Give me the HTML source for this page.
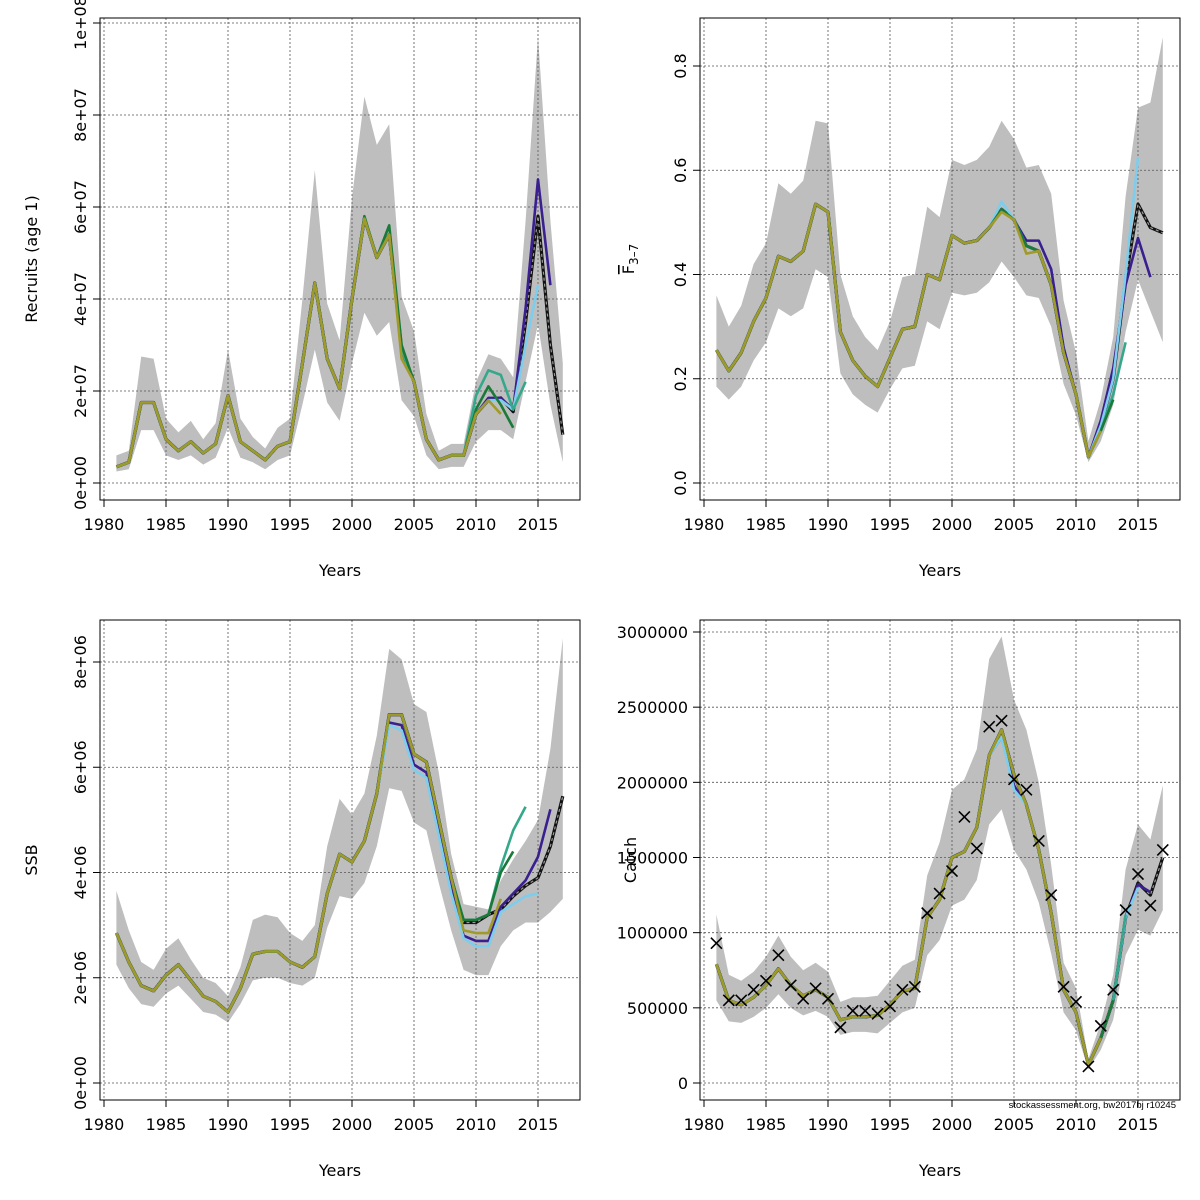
<!DOCTYPE html>
<html><head><meta charset="utf-8">
<style>
html,body{margin:0;padding:0;background:#fff;}
svg{display:block;font-family:"DejaVu Sans","Liberation Sans",sans-serif;}
</style></head>
<body>
<svg id="chart" width="1200" height="1200" viewBox="0 0 1200 1200"></svg>
<script>
const years=[];for(let y=1981;y<=2017;y++)years.push(y);
// Recruits (millions)
const recMid=[3.5,4.5,17.5,17.5,9.5,7,9,6.5,8.5,19,9,7,5,8,9,26,43.5,27,20.5,40,57.5,49,54,29,22,9.5,5,6,6,15,18,18.5,15.5,35,58,30,10.5];
const recLo=[2.5,3,11.5,11.5,6,5,6,4,5.5,12,5.5,4.5,3,5,6,17,29,17.5,13.5,26,37,32,35,18,14.5,6,3,3.5,3.5,9,11.5,11.5,9.5,22,34.5,17,4.5];
const recHi=[6,7,27.5,27,14,11,13.5,9.5,13,29,14,10,7.5,12,14,40,68,39,31,62,84,73.5,78,40.5,33,15,7,8.5,8.5,22,28,27,23,57,97,57,26];
const recR2016={2011:18.5,2012:18.5,2013:16,2014:38,2015:66,2016:43};
const recR2015={2011:18,2012:18,2013:16,2014:30,2015:43};
const recR2014={2010:19,2011:24.5,2012:23.5,2013:16,2014:22};
const recR2013={2001:58,2003:56,2004:30,2010:16,2011:21,2012:17,2013:12};
const recR2012={2004:27,2010:15,2011:18,2012:15};
// Fbar
const fMid=[0.255,0.215,0.25,0.31,0.355,0.435,0.425,0.445,0.535,0.52,0.29,0.235,0.205,0.185,0.24,0.295,0.3,0.4,0.39,0.475,0.46,0.465,0.49,0.525,0.505,0.455,0.445,0.38,0.25,0.17,0.05,0.11,0.2,0.39,0.535,0.49,0.48];
const fLo=[0.185,0.16,0.185,0.235,0.27,0.335,0.32,0.335,0.41,0.395,0.21,0.17,0.15,0.135,0.18,0.22,0.225,0.31,0.295,0.365,0.36,0.365,0.385,0.425,0.395,0.36,0.355,0.3,0.19,0.13,0.04,0.08,0.15,0.29,0.39,0.33,0.27];
const fHi=[0.36,0.3,0.34,0.42,0.46,0.575,0.555,0.58,0.695,0.69,0.4,0.32,0.28,0.255,0.31,0.395,0.4,0.53,0.51,0.62,0.61,0.62,0.645,0.695,0.66,0.605,0.61,0.555,0.35,0.25,0.08,0.16,0.28,0.55,0.72,0.73,0.855];
const fR2016={2006:0.465,2007:0.465,2008:0.41,2009:0.26,2010:0.17,2011:0.05,2012:0.12,2013:0.22,2014:0.38,2015:0.47,2016:0.395};
const fR2015={2004:0.54,2012:0.11,2013:0.2,2014:0.4,2015:0.625};
const fR2014={2012:0.1,2013:0.17,2014:0.27};
const fR2013={2012:0.1,2013:0.16};
const fR2012={2004:0.52,2006:0.44,2011:0.05,2012:0.1};
// SSB (millions)
const ssbMid=[2.85,2.3,1.85,1.75,2.05,2.25,1.95,1.65,1.55,1.35,1.8,2.45,2.5,2.5,2.3,2.2,2.4,3.6,4.35,4.2,4.6,5.5,7.0,7.0,6.25,6.1,5.0,3.9,3.05,3.05,3.2,3.3,3.55,3.75,3.9,4.5,5.45];
const ssbLo=[2.25,1.8,1.5,1.45,1.7,1.85,1.6,1.35,1.3,1.15,1.5,1.95,2.0,2.0,1.9,1.85,2.0,2.95,3.55,3.5,3.8,4.5,5.6,5.55,4.95,4.8,3.8,2.9,2.15,2.05,2.05,2.6,2.9,3.05,3.05,3.25,3.5];
const ssbHi=[3.65,2.9,2.3,2.15,2.55,2.75,2.35,2.0,1.9,1.65,2.2,3.1,3.2,3.15,2.85,2.7,3.0,4.5,5.4,5.1,5.5,6.6,8.25,8.05,7.2,7.05,5.9,4.35,3.4,3.35,3.3,3.85,4.25,4.6,5.0,6.35,8.45];
const ssbR2016={2003:6.85,2004:6.8,2005:6.05,2006:5.9,2007:4.8,2008:3.7,2009:2.8,2010:2.7,2011:2.7,2012:3.35,2013:3.6,2014:3.85,2015:4.3,2016:5.2};
const ssbR2015={2003:6.8,2004:6.7,2005:5.95,2006:5.8,2007:4.7,2008:3.6,2009:2.75,2010:2.6,2011:2.6,2012:3.25,2013:3.4,2014:3.55,2015:3.6};
const ssbR2014={2009:3.1,2010:3.1,2011:3.2,2012:4.1,2013:4.8,2014:5.25};
const ssbR2013={2009:3.1,2010:3.1,2011:3.2,2012:4.0,2013:4.4};
const ssbR2012={2009:2.9,2010:2.85,2011:2.85,2012:3.5};
// Catch (millions)
const catMid=[0.79,0.55,0.52,0.57,0.65,0.76,0.65,0.58,0.62,0.57,0.42,0.44,0.44,0.45,0.52,0.61,0.63,1.1,1.22,1.5,1.54,1.7,2.18,2.35,2.05,1.85,1.55,1.13,0.62,0.47,0.12,0.3,0.55,1.1,1.33,1.25,1.5];
const catLo=[0.55,0.41,0.4,0.44,0.5,0.59,0.5,0.45,0.48,0.44,0.32,0.34,0.34,0.33,0.4,0.47,0.5,0.85,0.95,1.18,1.22,1.35,1.72,1.82,1.55,1.42,1.2,0.86,0.47,0.35,0.09,0.22,0.42,0.85,1.02,0.98,1.15];
const catHi=[1.12,0.72,0.68,0.74,0.84,0.98,0.84,0.75,0.8,0.74,0.54,0.57,0.57,0.58,0.68,0.78,0.82,1.38,1.6,1.95,2.02,2.22,2.82,2.97,2.55,2.35,2.0,1.45,0.8,0.63,0.16,0.4,0.72,1.42,1.72,1.62,1.98];
const catObs=[0.93,0.55,0.55,0.62,0.68,0.85,0.65,0.56,0.63,0.56,0.37,0.48,0.48,0.46,0.51,0.62,0.64,1.13,1.26,1.41,1.77,1.56,2.37,2.41,2.02,1.95,1.61,1.25,0.64,0.54,0.11,0.38,0.62,1.15,1.39,1.18,1.55];
const catR2016={2004:2.3,2005:1.98,2014:1.1,2015:1.32,2016:1.27};
const catR2015={2004:2.3,2005:1.95,2015:1.3};
const catR2014={2014:1.12};
const catR2013={};
const catR2012={};

const retroColors={2016:"#3a1f8f",2015:"#7dcdec",2014:"#35a88c",2013:"#1a7a3a",2012:"#a09a2a"};
const xTicks=[1980,1985,1990,1995,2000,2005,2010,2015];
const NS="http://www.w3.org/2000/svg";
const svg=document.getElementById('chart');
function el(tag,attrs,parent){const e=document.createElementNS(NS,tag);for(const k in attrs)e.setAttribute(k,attrs[k]);(parent||svg).appendChild(e);return e;}

function panel(p){
  const g=el('g',{});
  
  
  const X=y=>p.x0+(y-1980)*(p.x1-p.x0)/35;
  const Y=v=>p.y0-(v-p.v0)*(p.y0-p.y1)/(p.v1-p.v0);
  let d='';years.forEach((y,i)=>{d+=(i?'L':'M')+X(y)+','+Y(p.hi[i]);});
  for(let i=years.length-1;i>=0;i--)d+='L'+X(years[i])+','+Y(p.lo[i]);
  const band=el('path',{d:d+'Z',fill:'#bebebe',stroke:'none'},g);
  
  
  xTicks.forEach(t=>{const l=el('line',{x1:X(t),x2:X(t),y1:p.by0,y2:p.by1,stroke:'#555','stroke-width':0.8,'stroke-dasharray':'2,2'},g);
    });
  p.ticks.forEach(t=>{const l=el('line',{x1:p.bx0,x2:p.bx1,y1:Y(t),y2:Y(t),stroke:'#555','stroke-width':0.8,'stroke-dasharray':'2,2'},g);
    });
  // main (underneath retros)
  const mp=years.map((y,i)=>X(y)+','+Y(p.mid[i])).join(' ');
  const m1=el('polyline',{points:mp,fill:'none',stroke:'#111','stroke-width':3.2,'stroke-linejoin':'round'},g);
  
  const m2=el('polyline',{points:mp,fill:'none',stroke:'#999','stroke-width':1.2,'stroke-dasharray':'3,3'},g);
  
  // retros
  const rets=[[2016,p.r16],[2015,p.r15],[2014,p.r14],[2013,p.r13],[2012,p.r12]];
  rets.forEach(([ey,ov])=>{
    let pts=[];years.forEach((y,i)=>{if(y<=ey){const v=(ov&&ov[y]!==undefined)?ov[y]:p.mid[i];pts.push(X(y)+','+Y(v));}});
    const l=el('polyline',{points:pts.join(' '),fill:'none',stroke:retroColors[ey],'stroke-width':2.6,'stroke-linejoin':'round'},g);
    
  });
  if(p.obs){p.obs.forEach((v,i)=>{const cx=X(years[i]),cy=Y(v),s=5.5;
    const c=el('path',{d:`M${cx-s},${cy-s}L${cx+s},${cy+s}M${cx-s},${cy+s}L${cx+s},${cy-s}`,stroke:'#000','stroke-width':1.6},g);
    });}
  const b=el('rect',{x:p.bx0,y:p.by0,width:p.bx1-p.bx0,height:p.by1-p.by0,fill:'none',stroke:'#000','stroke-width':1},g);
  
  el('line',{x1:X(1980),x2:X(2015),y1:p.by1,y2:p.by1,stroke:'#000'},g);
  xTicks.forEach(t=>{el('line',{x1:X(t),x2:X(t),y1:p.by1,y2:p.by1+7,stroke:'#000'},g);
    const tx=el('text',{x:X(t),y:p.by1+30,'text-anchor':'middle','font-size':16},g);tx.textContent=t;
    });
  const xl=el('text',{x:(p.bx0+p.bx1)/2,y:p.by1+76,'text-anchor':'middle','font-size':16},g);xl.textContent='Years';
  
  el('line',{x1:p.bx0,x2:p.bx0,y1:Y(p.ticks[0]),y2:Y(p.ticks[p.ticks.length-1]),stroke:'#000'},g);
  p.ticks.forEach((t,i)=>{el('line',{x1:p.bx0-7,x2:p.bx0,y1:Y(t),y2:Y(t),stroke:'#000'},g);
    if(p.yRot){const tx=el('text',{x:0,y:0,'text-anchor':'middle','font-size':16,transform:`translate(${p.bx0-14},${Y(t)}) rotate(-90)`},g);tx.textContent=p.tl[i];
      }
    else{const tx=el('text',{x:p.bx0-12,y:Y(t)+6,'text-anchor':'end','font-size':16},g);tx.textContent=p.tl[i];
      }
  });
  const yl=el('text',{x:0,y:0,'text-anchor':'middle','font-size':16,transform:`translate(${p.ylx},${(p.by0+p.by1)/2}) rotate(-90)`},g);
  if(p.ylabelHTML){yl.innerHTML=p.ylabelHTML;}else yl.textContent=p.ylabel;
  
}

panel({name:'recruits-panel',x0:104,x1:538,y0:483,y1:23,v0:0,v1:100,bx0:100,bx1:580,by0:18,by1:500,
  mid:recMid,lo:recLo,hi:recHi,r16:recR2016,r15:recR2015,r14:recR2014,r13:recR2013,r12:recR2012,
  ticks:[0,20,40,60,80,100],tl:['0e+00','2e+07','4e+07','6e+07','8e+07','1e+08'],yRot:true,ylx:37,ylabel:'Recruits (age 1)'});
panel({name:'fbar-panel',x0:704,x1:1138,y0:483,y1:66,v0:0,v1:0.8,bx0:700,bx1:1180,by0:18,by1:500,
  mid:fMid,lo:fLo,hi:fHi,r16:fR2016,r15:fR2015,r14:fR2014,r13:fR2013,r12:fR2012,
  ticks:[0,0.2,0.4,0.6,0.8],tl:['0.0','0.2','0.4','0.6','0.8'],yRot:true,ylx:634,
  ylabelHTML:'<tspan text-decoration="overline">F</tspan><tspan font-size="12" dy="4">3–7</tspan>'});
panel({name:'ssb-panel',x0:104,x1:538,y0:1083,y1:662,v0:0,v1:8,bx0:100,bx1:580,by0:620,by1:1100,
  mid:ssbMid,lo:ssbLo,hi:ssbHi,r16:ssbR2016,r15:ssbR2015,r14:ssbR2014,r13:ssbR2013,r12:ssbR2012,
  ticks:[0,2,4,6,8],tl:['0e+00','2e+06','4e+06','6e+06','8e+06'],yRot:true,ylx:37,ylabel:'SSB'});
panel({name:'catch-panel',x0:704,x1:1138,y0:1083,y1:632,v0:0,v1:3,bx0:700,bx1:1180,by0:620,by1:1100,
  mid:catMid,lo:catLo,hi:catHi,r16:catR2016,r15:catR2015,r14:catR2014,r13:catR2013,r12:catR2012,obs:catObs,
  ticks:[0,0.5,1,1.5,2,2.5,3],tl:['0','500000','1000000','1500000','2000000','2500000','3000000'],yRot:false,ylx:636,ylabel:'Catch'});
const fn=el('text',{x:1176,y:1108,'text-anchor':'end','font-size':9.5,'font-family':'Liberation Sans Narrow, Liberation Sans, sans-serif'});
fn.textContent='stockassessment.org, bw2017bj r10245';


</script>
</body></html>
